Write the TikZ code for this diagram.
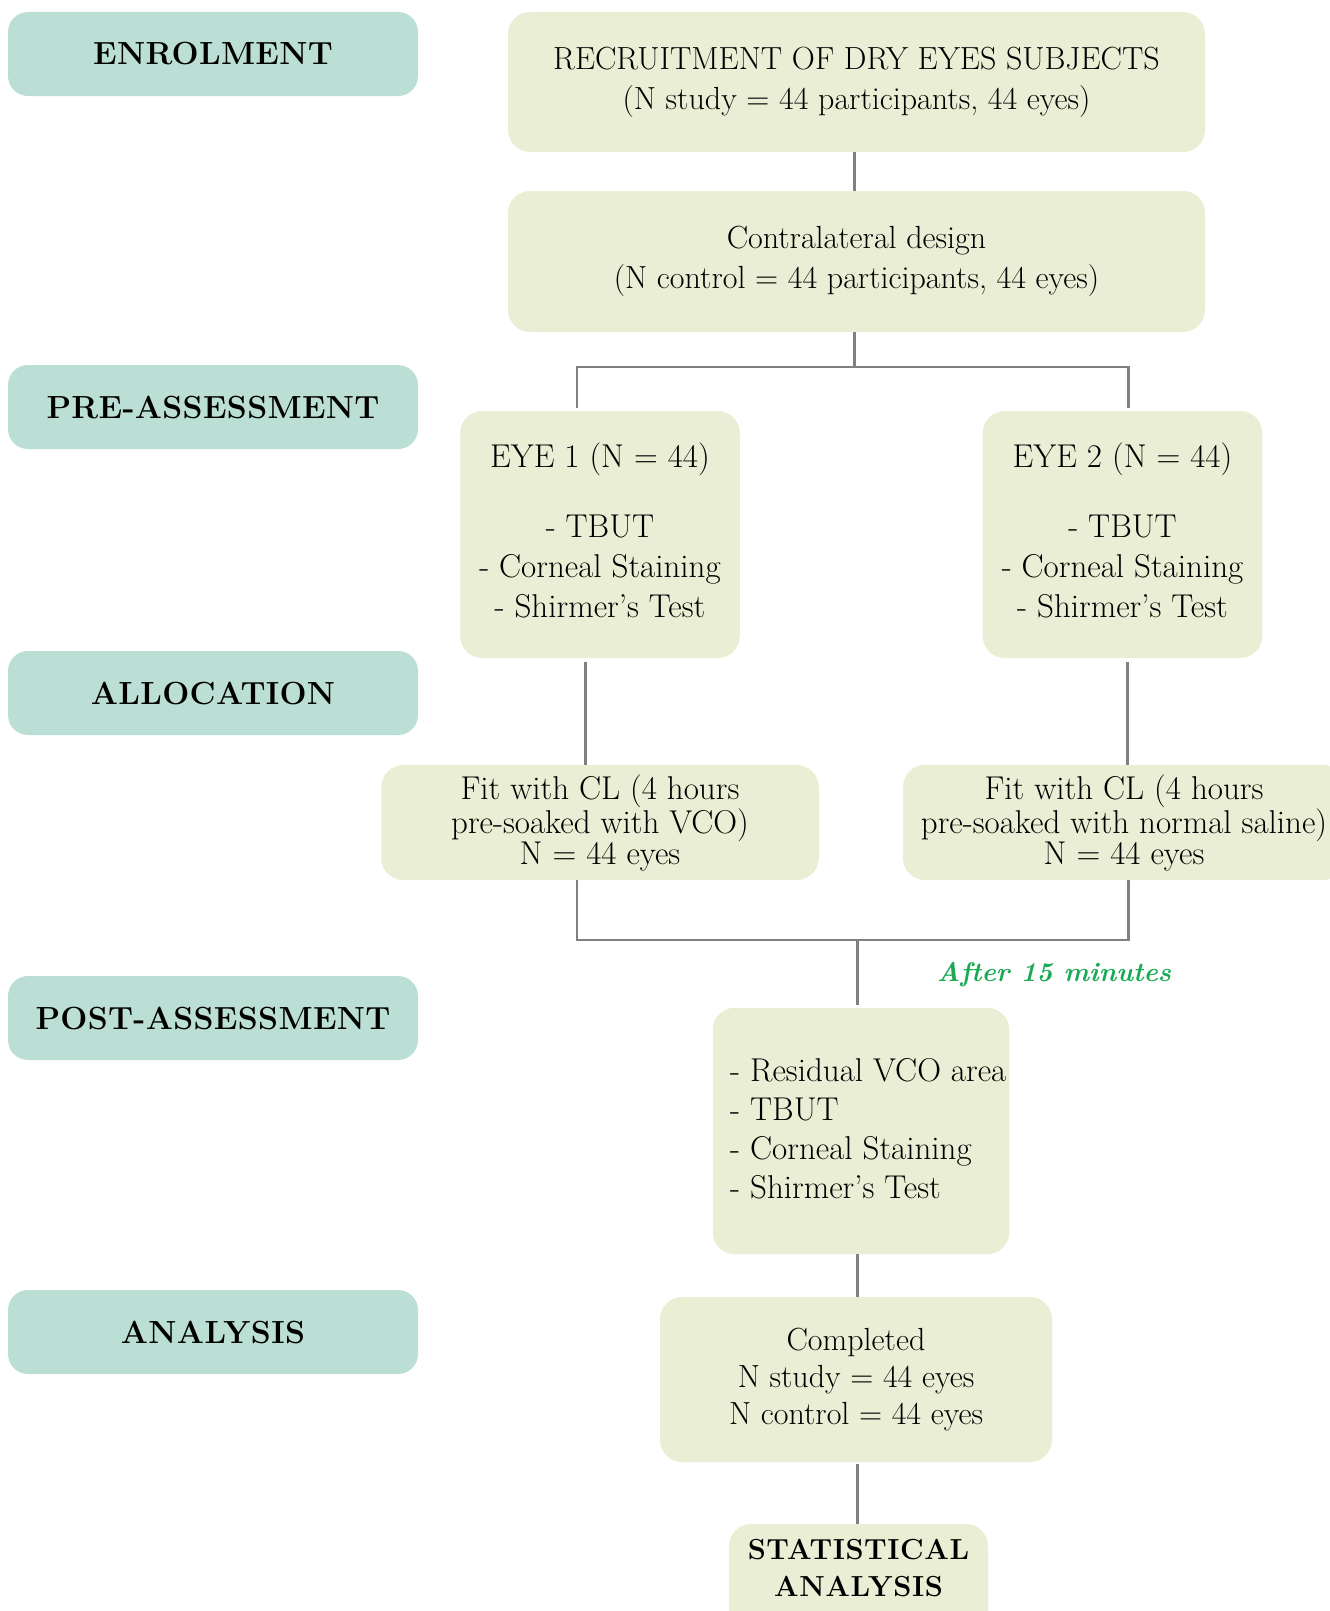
\documentclass[tikz,border=0pt]{standalone}
\usepackage{fontspec}
\setmainfont{Latin Modern Roman}
\definecolor{labfill}{HTML}{BBDFD4}
\definecolor{boxfill}{HTML}{EAEED4}
\definecolor{lncol}{HTML}{808080}
\definecolor{grncol}{HTML}{1AAA55}
\begin{document}
\begin{tikzpicture}[x=1pt,y=-1pt,
  labbox/.style={fill=labfill, rounded corners=20pt, minimum width=410pt, minimum height=84pt, inner sep=0pt,
    font=\fontsize{32}{34}\selectfont\bfseries\addfontfeature{LetterSpace=1}},
  mainbox/.style={fill=boxfill, rounded corners=22pt, inner sep=0pt, align=center,
    font=\fontsize{32}{40}\selectfont},
  conn/.style={draw=lncol, line width=2.8pt},
]
\useasboundingbox (0,0) rectangle (1330,1611);
\clip (0,0) rectangle (1330,1611);
% left labels
\node[labbox] (enr) at (213,54) {ENROLMENT};
\node[labbox] (pre) at (213,407) {PRE-ASSESSMENT};
\node[labbox] (alloc) at (213,693) {ALLOCATION};
\node[labbox] (post) at (213,1018) {POST-ASSESSMENT};
\node[labbox] (anal) at (213,1332) {ANALYSIS};
% main boxes
\node[mainbox, minimum width=697pt, minimum height=140pt] (rec) at (856.5,82)
  {RECRUITMENT OF DRY EYES SUBJECTS\\(N study = 44 participants, 44 eyes)};
\node[mainbox, minimum width=697pt, minimum height=141pt] (con) at (856.5,261.5)
  {Contralateral design\\(N control = 44 participants, 44 eyes)};
\node[mainbox, minimum width=279.5pt, minimum height=247pt] (eye1) at (600,534.5) {};
\node[inner sep=0pt, align=center, font=\fontsize{33}{40}\selectfont] (eye1txt) at (600,530)
  {EYE 1 (N = 44)\\[30pt]- TBUT\\- Corneal Staining\\- Shirmer’s Test};
\node[mainbox, minimum width=279.5pt, minimum height=247pt] (eye2) at (1122.5,534.5) {};
\node[inner sep=0pt, align=center, font=\fontsize{33}{40}\selectfont] (eye2txt) at (1122.5,530)
  {EYE 2 (N = 44)\\[30pt]- TBUT\\- Corneal Staining\\- Shirmer’s Test};
\node[mainbox, minimum width=437.5pt, minimum height=115pt, font=\fontsize{33}{31}\selectfont] (fit1) at (600,822.5)
  {Fit with CL (4 hours\\pre-soaked with VCO)\\N = 44 eyes};
\node[mainbox, minimum width=442pt, minimum height=115pt, font=\fontsize{33}{31}\selectfont] (fit2) at (1124,822.5)
  {Fit with CL (4 hours\\pre-soaked with normal saline)\\N = 44 eyes};
\node[mainbox, minimum width=296.5pt, minimum height=246.5pt] (pst) at (861,1131) {};
\node[anchor=north west, inner sep=0pt, align=left, font=\fontsize{33}{39}\selectfont] (psttxt) at (730,1058)
  {- Residual VCO area\\- TBUT\\- Corneal Staining\\- Shirmer’s Test};
\node[mainbox, minimum width=392pt, minimum height=165pt, font=\fontsize{32}{37}\selectfont] (comp) at (856,1379.5)
  {Completed\\N study = 44 eyes\\N control = 44 eyes};
\node[mainbox, minimum width=259pt, minimum height=110pt] (stat) at (858.5,1579) {};
\node[inner sep=0pt, align=center, font=\fontsize{29}{37}\selectfont\bfseries\addfontfeature{LetterSpace=2}] (stattxt) at (858.5,1568)
  {STATISTICAL\\ANALYSIS};
\node[inner sep=0pt, text=grncol, font=\fontsize{27}{32}\selectfont\bfseries\itshape] (after) at (1054,975) {After 15 minutes};
% junction coordinates
\coordinate (jt) at (854.5,367);
\coordinate (jtl) at (577,367);
\coordinate (jtr) at (1128.6,367);
\coordinate (jb) at (857.5,940);
\coordinate (jbl) at (577,940);
\coordinate (jbr) at (1128.6,940);
\coordinate (el) at (585.5,0);
\coordinate (er) at (1127.6,0);
% connectors
\draw[conn] (rec.south -| jt) -- (con.north -| jt);
\draw[conn] (con.south -| jt) -- (jt);
\draw[conn] ([yshift=3pt]eye1.north -| jtl) -- (jtl) -- (jtr) -- ([yshift=3pt]eye2.north -| jtr);
\draw[conn] ([yshift=-4pt]eye1.south -| el) -- (fit1.north -| el);
\draw[conn] ([yshift=-4pt]eye2.south -| er) -- (fit2.north -| er);
\draw[conn] (fit1.south -| jbl) -- (jbl) -- (jbr) -- (fit2.south -| jbr);
\draw[conn] (jb) -- ([yshift=3pt]pst.north -| jb);
\draw[conn] (pst.south -| jb) -- (comp.north -| jb);
\draw[conn] ([yshift=-2pt]comp.south -| jb) -- (stat.north -| jb);
\end{tikzpicture}
\end{document}
